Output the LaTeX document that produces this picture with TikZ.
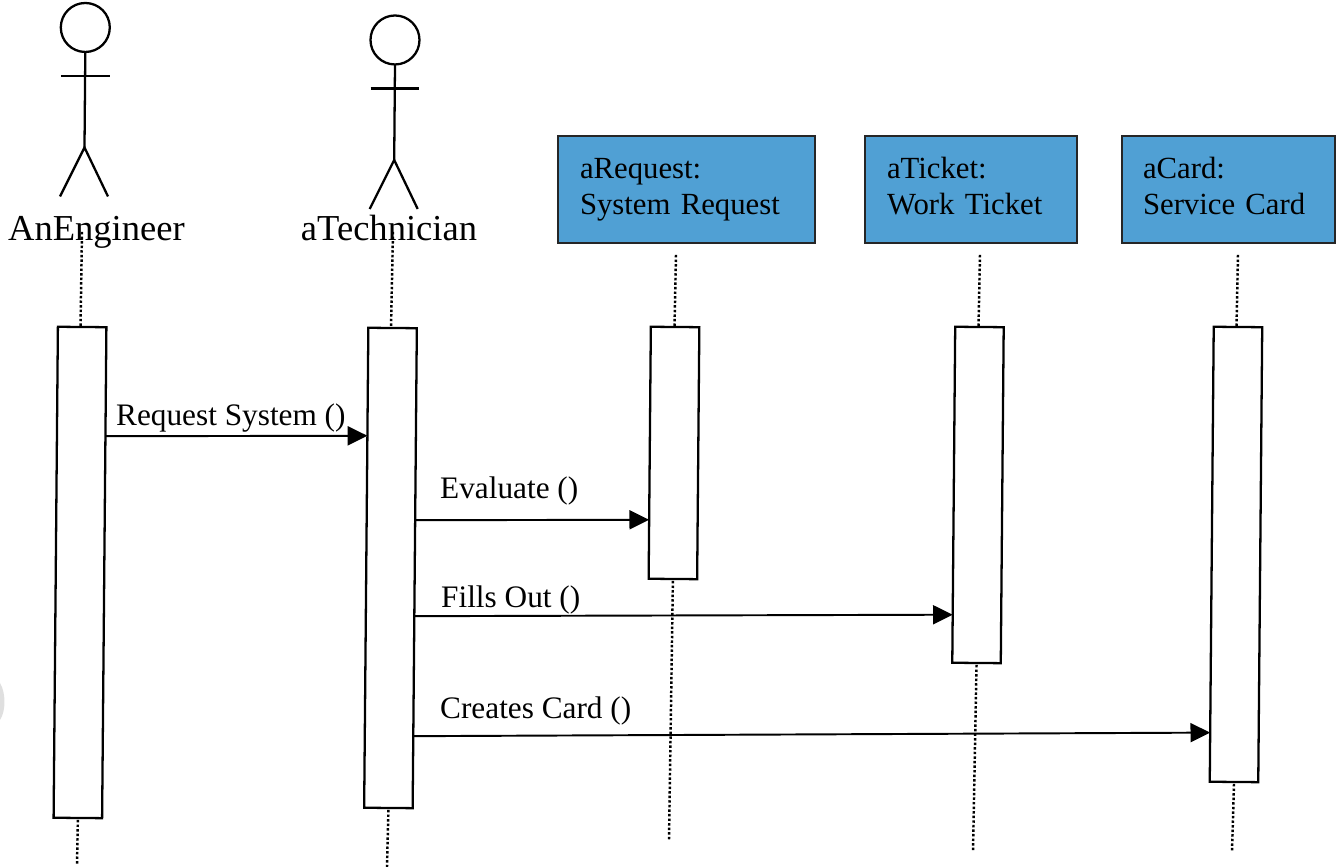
\documentclass[tikz,border=0pt]{standalone}
\usepackage{fontspec}
\setmainfont{Liberation Serif}
\usetikzlibrary{arrows.meta,calc}
\definecolor{boxblue}{RGB}{80,160,212}
\tikzset{
    actorhead/.style={draw, circle, line width=0.65pt, minimum size=0.49cm, inner sep=0pt, outer sep=0pt},
    actorline/.style={line width=0.65pt},
    actorname/.style={anchor=base, inner sep=0pt, font=\fontsize{10.4}{12}\selectfont},
    objbox/.style={draw=black!85, fill=boxblue, line width=0.7pt, minimum height=1.07cm, inner sep=0pt, outer sep=0pt,
        align=left, font=\fontsize{8.75}{10.2}\selectfont},
    actbar/.style={draw, fill=white, line width=0.65pt, minimum width=0.485cm, inner sep=0pt, outer sep=0pt, rotate=-0.5},
    lifeline/.style={line width=0.7pt, dash pattern=on 0.7pt off 0.6pt},
    msg/.style={line width=0.55pt, -{Triangle[length=5.6pt,width=5.4pt]}},
    msglabel/.style={anchor=base west, inner sep=0pt, font=\fontsize{8.9}{10.2}\selectfont}
}
\begin{document}
\begin{tikzpicture}
\useasboundingbox (0,0) rectangle (13.38,8.67);

% Actors
\foreach \who/\x/\y in {eng/0.853/8.395,tech/3.95/8.27} {
    \node[actorhead] (\who Head) at (\x,\y) {};
    \coordinate (\who Hip) at ($(\who Head.south)+(-0.008,-0.955)$);
    \draw[actorline] (\who Head.south) -- (\who Hip);
    \draw[actorline] ($(\who Head.south)+(-0.245,-0.24)$) -- ($(\who Head.south)+(0.245,-0.24)$);
    \draw[actorline] ($(\who Hip)+(-0.245,-0.49)$) -- (\who Hip) -- ($(\who Hip)+(0.235,-0.49)$);
}
\node[actorname] (engName) at (0.965,6.26) {AnEngineer};
\node[actorname] (techName) at (3.89,6.26) {aTechnician};

% Object boxes
\node[objbox, minimum width=2.57cm, text width=2.13cm] (reqBox) at (6.865,6.775) {aRequest:\\System Request};
\node[objbox, minimum width=2.12cm, text width=1.68cm] (tickBox) at (9.71,6.775) {aTicket:\\Work Ticket\vphantom{y}};
\node[objbox, minimum width=2.13cm, text width=1.71cm] (cardBox) at (12.285,6.775) {aCard:\\Service Card\vphantom{y}};

% Lifelines and activation bars
\foreach \bar/\x/\y/\h/\xa/\ya/\xb/\yb in {
    eng/0.80/2.945/4.91/0.82/6.35/0.77/0.02,
    tech/3.905/2.99/4.80/3.93/6.35/3.87/0.00,
    req/6.74/4.14/2.52/6.76/6.12/6.69/0.27,
    tick/9.78/3.72/3.36/9.80/6.12/9.73/0.15,
    card/12.36/3.125/4.55/12.38/6.12/12.32/0.15} {
    \coordinate (\bar Top) at (\xa,\ya);
    \coordinate (\bar End) at (\xb,\yb);
    \draw[lifeline] (\bar Top) -- ($(\bar Top)!1!(\x+0.005,\y+\h/2)$);
    \node[actbar, minimum height=\h cm] (\bar Bar) at (\x,\y) {};
    \draw[lifeline] ($(\bar Bar.south)+(0,-0.02)$) -- (\bar End);
}

% Messages
\foreach \from/\fa/\to/\fb in {eng/0.222/tech/0.225,tech/0.40/req/0.766,tech/0.60/tick/0.857,tech/0.85/card/0.892} {
    \draw[msg] ($(\from Bar.north east)!\fa!(\from Bar.south east)$) -- ($(\to Bar.north west)!\fb!(\to Bar.south west)$);
}
\node[msglabel] (msgRequest) at (1.155,4.415) {Request System ()};
\node[msglabel] (msgEvaluate) at (4.395,3.685) {Evaluate ()};
\node[msglabel] (msgFills) at (4.405,2.595) {Fills Out ()};
\node[msglabel] (msgCreates) at (4.395,1.485) {Creates Card ()};

% Mark at the left edge
\fill[gray!25] (0,1.84) .. controls (0.06,1.74) and (0.06,1.56) .. (0,1.47) -- cycle;
\end{tikzpicture}
\end{document}
